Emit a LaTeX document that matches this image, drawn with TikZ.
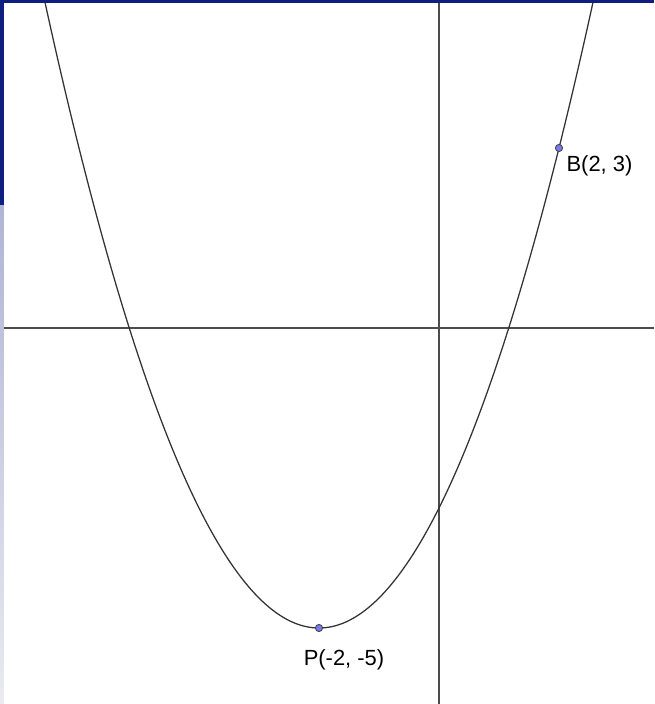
\documentclass[tikz,border=0pt]{standalone}
\usepackage{fontspec}
\setmainfont{Liberation Sans}
\usetikzlibrary{arrows.meta}
\usepackage{xcolor}
\definecolor{slideblue}{RGB}{16,30,128}
\definecolor{slidepale}{RGB}{176,180,214}
\definecolor{slidefade}{RGB}{234,234,240}
\definecolor{ptblue}{RGB}{122,122,240}
\newcommand{\xmin}{-7.3167}
\newcommand{\xmax}{3.5833}
\newcommand{\ymin}{-6.2667}
\newcommand{\ymax}{5.4667}

\begin{document}
\begin{tikzpicture}
\tikzstyle{every node}=[font=\fontsize{10.4}{12}\selectfont]
\tikzstyle{axis}=[draw=black!70,line width=0.5pt]
\tikzstyle{curve}=[draw=black!80,line width=0.6pt]
\tikzstyle{pt}=[circle,draw=black!75,fill=ptblue,inner sep=0pt,minimum size=0.12cm,line width=0.4pt]
\useasboundingbox (\xmin,\ymin) rectangle (\xmax,\ymax);
\begin{scope}
\clip (\xmin,\ymin) rectangle (\xmax,\ymax);
% axes
\draw[axis] (\xmin,0) -- (\xmax,0);
\draw[axis] (0,\ymin) -- (0,\ymax);
% y = (x+2)^2/2 - 5
\draw[curve] plot[domain=-6.65:2.65,samples=200] (\x,{0.5*(\x+2)^2-5});
\end{scope}
\node[pt] (B) at (2,3) {};
\node[pt] (P) at (-2,-5) {};
\node[anchor=west,inner sep=0pt] (Blbl) at (2.12,2.7) {B(2, 3)};
\node[inner sep=0pt] (Plbl) at (-1.583,-5.533) {P(-2, -5)};
% slide edges
\fill[slideblue] (\xmin,5.4167) rectangle (\xmax,\ymax);
\fill[slideblue] (\xmin,2.05) rectangle (-7.25,\ymax);
\shade[top color=slidepale,bottom color=slidefade] (\xmin,\ymin) rectangle (-7.25,2.05);
\end{tikzpicture}
\end{document}
